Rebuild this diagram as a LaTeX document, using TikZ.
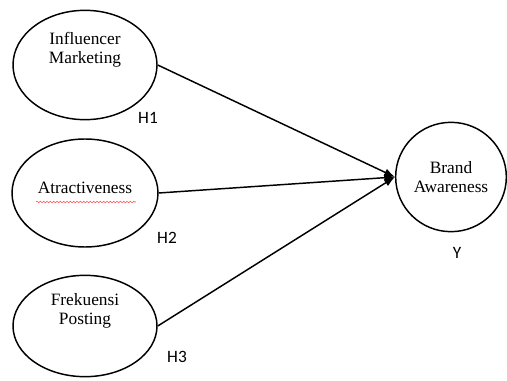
\documentclass[tikz,border=0pt]{standalone}
\usepackage{fontspec}
\setmainfont{Liberation Serif}
\newfontfamily\hypfont{Carlito}
\usetikzlibrary{shapes.geometric,arrows.meta,decorations.pathmorphing}

\begin{document}
\begin{tikzpicture}[x=0.75pt,y=-0.75pt,
    construct/.style={draw,ellipse,line width=1.1pt,minimum width=108pt,align=center,font=\fontsize{13}{14.5}\selectfont},
    arc/.style={draw,line width=1.1pt,-{Latex[length=8pt,width=6pt]}},
    hyp/.style={font=\hypfont\fontsize{13}{14}\selectfont}]
        \useasboundingbox (0,0) rectangle (507,381);

        \foreach [count=\i] \coord/\txt/\ht in {(85,65)/{Influencer\\Marketing}/82pt,(85,193)/{Atractiveness}/81pt,(85,326)/{Frekuensi\\Posting}/76pt}{
            \node[construct,minimum height=\ht] (x\i) at \coord {\txt};
        }
        \node[construct,inner xsep=0pt,minimum width=83pt,minimum height=82pt] (y) at (451,177) {Brand\\Awareness};

        \foreach \i in {1,2,3}{
            \draw[arc] (x\i.east) -- (y.west);
        }

        \node[hyp] (h1) at (148,118) {H1};
        \node[hyp] (h2) at (167,238) {H2};
        \node[hyp] (h3) at (177,357) {H3};
        \node[hyp] (ylab) at (457,253) {Y};

        % spelling mark
        \draw[red!70,line width=0.4pt,decorate,decoration={snake,amplitude=0.6pt,segment length=2.5pt}] (36,202) -- (136,202);
    \end{tikzpicture}
\end{document}
